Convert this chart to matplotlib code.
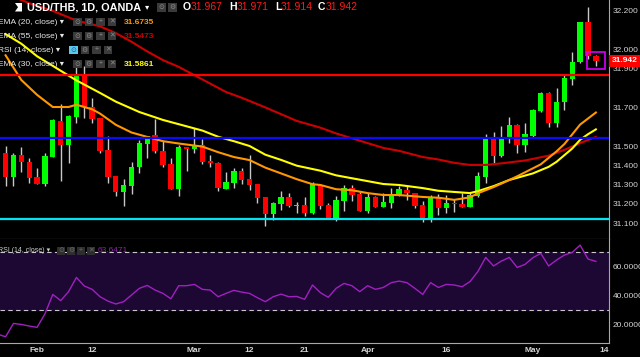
import matplotlib
matplotlib.use("Agg")
import matplotlib.pyplot as plt
from matplotlib.patches import Rectangle, Polygon
import numpy as np

plt.rcParams['font.family'] = ['Liberation Sans', 'DejaVu Sans']

# daily bars, Jan 26 2018 .. May 11 2018 (weekdays)
opens = [31.465, 31.341, 31.453, 31.418, 31.340, 31.303, 31.445, 31.631, 31.505, 31.651,
         31.873, 31.700, 31.643, 31.480, 31.345, 31.263, 31.293, 31.390, 31.510, 31.557,
         31.476, 31.405, 31.277, 31.495, 31.484, 31.505, 31.422, 31.414, 31.279, 31.310,
         31.370, 31.329, 31.301, 31.234, 31.148, 31.198, 31.234, 31.191, 31.193, 31.151,
         31.298, 31.194, 31.120, 31.217, 31.284, 31.250, 31.163, 31.234, 31.186, 31.206,
         31.246, 31.272, 31.259, 31.194, 31.120, 31.237, 31.177, 31.203, 31.200, 31.186,
         31.241, 31.341, 31.543, 31.450, 31.535, 31.609, 31.505, 31.552, 31.681, 31.773,
         31.620, 31.726, 31.849, 31.933, 32.141, 31.967]
highs = [31.500, 31.465, 31.496, 31.436, 31.384, 31.465, 31.642, 31.718, 31.660, 31.925,
         31.915, 31.750, 31.643, 31.552, 31.345, 31.329, 31.419, 31.531, 31.553, 31.640,
         31.526, 31.436, 31.505, 31.495, 31.595, 31.535, 31.453, 31.419, 31.365, 31.384,
         31.384, 31.453, 31.301, 31.234, 31.212, 31.269, 31.255, 31.210, 31.234, 31.312,
         31.301, 31.203, 31.241, 31.298, 31.298, 31.263, 31.258, 31.241, 31.255, 31.281,
         31.293, 31.298, 31.259, 31.215, 31.246, 31.251, 31.246, 31.224, 31.258, 31.255,
         31.367, 31.562, 31.574, 31.604, 31.649, 31.612, 31.617, 31.690, 31.778, 31.778,
         31.799, 31.873, 31.989, 32.145, 32.222, 31.971]
lows = [31.293, 31.293, 31.367, 31.307, 31.305, 31.293, 31.445, 31.319, 31.414, 31.617,
        31.643, 31.617, 31.462, 31.310, 31.240, 31.190, 31.251, 31.359, 31.440, 31.462,
        31.393, 31.277, 31.241, 31.370, 31.465, 31.407, 31.390, 31.268, 31.279, 31.284,
        31.303, 31.272, 31.203, 31.085, 31.117, 31.168, 31.182, 31.155, 31.139, 31.148,
        31.172, 31.122, 31.113, 31.165, 31.217, 31.163, 31.151, 31.182, 31.182, 31.177,
        31.241, 31.220, 31.180, 31.105, 31.105, 31.142, 31.155, 31.160, 31.186, 31.186,
        31.234, 31.307, 31.414, 31.445, 31.517, 31.465, 31.467, 31.540, 31.678, 31.600,
        31.597, 31.687, 31.816, 31.930, 31.949, 31.914]
closes = [31.341, 31.453, 31.415, 31.336, 31.305, 31.448, 31.633, 31.505, 31.655, 31.873,
          31.700, 31.640, 31.474, 31.341, 31.263, 31.298, 31.393, 31.514, 31.553, 31.474,
          31.402, 31.277, 31.495, 31.484, 31.505, 31.419, 31.410, 31.280, 31.313, 31.370,
          31.324, 31.298, 31.232, 31.148, 31.203, 31.234, 31.191, 31.193, 31.151, 31.301,
          31.191, 31.125, 31.220, 31.284, 31.246, 31.163, 31.234, 31.182, 31.208, 31.246,
          31.275, 31.258, 31.191, 31.120, 31.237, 31.177, 31.203, 31.199, 31.186, 31.246,
          31.346, 31.545, 31.450, 31.536, 31.609, 31.505, 31.562, 31.687, 31.773, 31.618,
          31.730, 31.851, 31.935, 32.141, 31.966, 31.942]

# EMA lines at these bar numbers
ema20_idx = [0, 2, 4, 6, 8, 9, 11, 12, 14, 16, 18, 20, 22, 25, 27, 29, 31, 33, 35, 37,
             39, 40, 42, 44, 46, 48, 50, 53, 55, 57, 59, 60, 62, 63, 65, 68, 70, 71, 73, 75]
ema20_val = [31.970, 31.842, 31.765, 31.702, 31.702, 31.714, 31.690, 31.668, 31.610, 31.570,
             31.547, 31.525, 31.513, 31.497, 31.468, 31.443, 31.427, 31.388, 31.358, 31.328,
             31.302, 31.298, 31.276, 31.271, 31.256, 31.246, 31.246, 31.236, 31.232, 31.221,
             31.234, 31.255, 31.287, 31.305, 31.343, 31.405, 31.472, 31.510, 31.611, 31.6735]
ema30_idx = [0, 2, 4, 7, 9, 12, 14, 17, 20, 25, 27, 29, 31, 33, 35, 37, 40, 42, 46, 48,
             50, 53, 55, 59, 60, 62, 64, 67, 69, 70, 72, 73, 74, 75]
ema30_val = [32.080, 32.030, 31.965, 31.890, 31.840, 31.775, 31.730, 31.676, 31.635, 31.580,
             31.548, 31.525, 31.500, 31.455, 31.428, 31.398, 31.372, 31.348, 31.318, 31.303,
             31.298, 31.282, 31.268, 31.256, 31.266, 31.292, 31.324, 31.358, 31.392, 31.418,
             31.487, 31.532, 31.561, 31.5861]
ema55_idx = [0, 3, 6, 9, 12, 14, 16, 18, 20, 22, 25, 28, 30, 33, 35, 37, 40, 42, 44, 46,
             48, 50, 53, 55, 57, 59, 61, 63, 66, 69, 71, 73, 75]
ema55_val = [32.290, 32.240, 32.200, 32.150, 32.120, 32.085, 32.040, 31.990, 31.945, 31.910,
             31.845, 31.780, 31.750, 31.700, 31.665, 31.630, 31.595, 31.565, 31.540, 31.515,
             31.490, 31.475, 31.443, 31.430, 31.413, 31.402, 31.402, 31.410, 31.425, 31.450,
             31.480, 31.515, 31.5473]

# RSI(14), first value belongs to the bar before the first visible candle
rsi_vals = [13.5, 11.7, 20.9, 20.2, 19.1, 18.2, 27.5, 40.9, 36.6, 42.8, 52.6,
            46.7, 44.4, 39.3, 36.3, 34.3, 35.9, 40.5, 45.1, 47.1, 43.9,
            41.6, 37.9, 46.9, 46.9, 47.8, 44.4, 43.9, 39.3, 41.6, 43.7,
            42.5, 41.6, 38.6, 35.9, 39.3, 41.1, 39.3, 39.5, 37.5, 47.4,
            42.1, 38.9, 45.1, 48.5, 46.9, 42.8, 46.9, 44.4, 45.7, 49.0,
            50.1, 49.0, 45.1, 40.9, 49.0, 45.7, 47.8, 47.4, 46.2, 49.7,
            56.6, 66.4, 60.5, 63.9, 66.4, 59.5, 61.6, 66.2, 69.2, 60.5,
            64.6, 68.0, 69.9, 74.9, 65.3, 63.6471]

levels = [31.87, 31.54, 31.12]
level_colors = ['#ff0000', '#0a0aff', '#00e5ee']

tick_idx = [4, 11, 24, 31, 38, 46, 56, 67, 76]
tick_labels = ['Feb', '12', 'Mar', '12', '21', 'Apr', '16', 'May', '14']
price_ticks = [32.2, 32.0, 31.9, 31.7, 31.5, 31.4, 31.3, 31.2, 31.1]
rsi_ticks = [60, 40, 20]

W, H = 640, 357
fig = plt.figure(figsize=(6.4, 3.57), dpi=100, facecolor='black')


def fx(x):
    return x / W


def fy(y):
    return 1 - y / H


axis_col = '#a8a8a8'
lab_col = '#d4d4d4'

ax = fig.add_axes([0, fy(239.3), fx(609), 239.3 / H])
ax2 = fig.add_axes([0, fy(343.3), fx(609), (343.3 - 239.3) / H], sharex=ax)
for a in (ax, ax2):
    a.set_facecolor('black')
    a.spines['top'].set_visible(False)
    a.spines['left'].set_visible(False)
    a.spines['bottom'].set_color(axis_col)
    a.spines['right'].set_color(axis_col)
    a.yaxis.tick_right()
    a.tick_params(axis='y', length=0, pad=2.5, labelsize=6, labelcolor=lab_col)

ax.set_xlim(-0.71, 76.67)
ax.set_ylim(31.0166, 32.2565)
ax2.set_ylim(7.2, 78.9)

# candles
n = len(closes)
x = np.arange(n)
o, hi, lo, c = (np.array(v) for v in (opens, highs, lows, closes))
cols = np.where(c >= o, '#00ff00', '#ff0000')
ax.vlines(x, lo, hi, color='#c8c8c8', lw=1, zorder=3)
ax.bar(x, np.maximum(np.abs(c - o), 0.005), bottom=np.minimum(o, c), width=0.68,
       color=cols, linewidth=0, zorder=4)

ax.plot(ema55_idx, ema55_val, color='#cc0000', lw=1.5, zorder=5)
ax.plot(ema30_idx, ema30_val, color='#ffff00', lw=1.5, zorder=5)
ax.plot(ema20_idx, ema20_val, color='#ff9800', lw=1.5, zorder=5)
for v, col in zip(levels, level_colors):
    ax.axhline(v, color=col, lw=1.6, zorder=6)

# highlight box around the last candle
mid = (highs[-1] + lows[-1]) / 2
ax.add_patch(Rectangle((n - 1 - 1.12, mid - 0.043), 2.24, 0.086, fill=False,
                       ec='#d500f9', lw=1.2, zorder=7))

ax.set_yticks(price_ticks)
ax.set_yticklabels([f'{t:.3f}' for t in price_ticks])
ax.tick_params(axis='x', bottom=False, labelbottom=False)
ax.text(1.004, closes[-1], f'{closes[-1]:.3f}', transform=ax.get_yaxis_transform(),
        ha='left', va='center', color='white', fontsize=6, fontweight='bold',
        bbox=dict(boxstyle='square,pad=0.3', fc='#ff0000', ec='none'), clip_on=False)

# RSI pane
ax2.axhspan(30, 70, color='#1d0833', zorder=1)
for v in (70, 30):
    ax2.axhline(v, color='#c8c8c8', lw=0.8, ls=(0, (4, 3)), zorder=2)
ax2.plot(np.arange(-1, n), rsi_vals, color='#a020c0', lw=1, zorder=3)
ax2.set_yticks(rsi_ticks)
ax2.set_yticklabels([f'{t:.4f}' for t in rsi_ticks])
ax2.set_xticks(tick_idx)
ax2.set_xticklabels(tick_labels, fontweight='bold')
ax2.tick_params(axis='x', length=0, pad=3, labelsize=6, labelcolor=lab_col)


def icon(x0, y0, glyph, fc='#3a3a3a', gc='#8c8c8c', size=8.5):
    fig.patches.append(Rectangle((fx(x0), fy(y0 + size / 2)), size / W, size / H,
                                 transform=fig.transFigure, fc=fc, ec='none'))
    fig.text(fx(x0 + size / 2), fy(y0), glyph, color=gc, fontsize=5,
             ha='center', va='center')


# header
fig.patches.append(Polygon([(fx(15), fy(3)), (fx(22), fy(3)), (fx(22), fy(11.5)),
                            (fx(15), fy(11.5)), (fx(18), fy(7.2))], closed=True,
                           transform=fig.transFigure, fc='white', ec='none'))
fig.text(fx(27), fy(7.5), 'USD/THB, 1D, OANDA', color='white', fontsize=7.8,
         fontweight='bold', va='center')
fig.text(fx(145), fy(7.5), '▾', color='white', fontsize=6, va='center')
icon(157, 7.5, '⊙')
icon(168, 7.5, '⚙')
ohlc = [('O', opens[-1], 183), ('H', highs[-1], 229), ('L', lows[-1], 275),
        ('C', closes[-1], 318)]
for letter, val, px in ohlc:
    fig.text(fx(px), fy(7.5), letter, color='white', fontsize=7.5,
             fontweight='bold', va='center')
    fig.text(fx(px + (6 if letter == 'L' else 7.5)), fy(7.5), f'{val:.3f}',
             color='#ff1a1a', fontsize=7.5, va='center')

legend_rows = [('EMA (20, close)', '31.6735', '#ff9800', 22, 73),
               ('EMA (55, close)', '31.5473', '#cc0000', 36, 73),
               ('RSI (14, close)', '', None, 50, 69),
               ('EMA (30, close)', '31.5861', '#ffff00', 64, 73)]
for label, val, col, yy, ix in legend_rows:
    fig.text(fx(-1.5), fy(yy), label + ' ▾', color='#e8e8e8', fontsize=6, va='center')
    first = '#5bc8f0' if col is None else '#3a3a3a'
    icon(ix, yy, '⊙', fc=first, gc='#1a5f80' if col is None else '#8c8c8c')
    for k, g in enumerate(['⚙', '+', '✕']):
        icon(ix + 11.5 * (k + 1), yy, g)
    if val:
        fig.text(fx(124), fy(yy), val, color=col, fontsize=6, va='center',
                 fontweight='bold')

# RSI legend
fig.text(fx(-1.5), fy(250.5), 'RSI (14, close) ▾', color='#cfcfcf', fontsize=5,
         va='center')
for k, g in enumerate(['⊙', '⚙', '+', '✕']):
    icon(57 + 10 * k, 250.5, g, fc='#2e2e2e', gc='#6a6a6a', size=8)
fig.text(fx(98), fy(250.5), f'{rsi_vals[-1]:.4f}', color='#8e24aa', fontsize=6,
         va='center')

fig.savefig('out.png', dpi=100, facecolor='black')
